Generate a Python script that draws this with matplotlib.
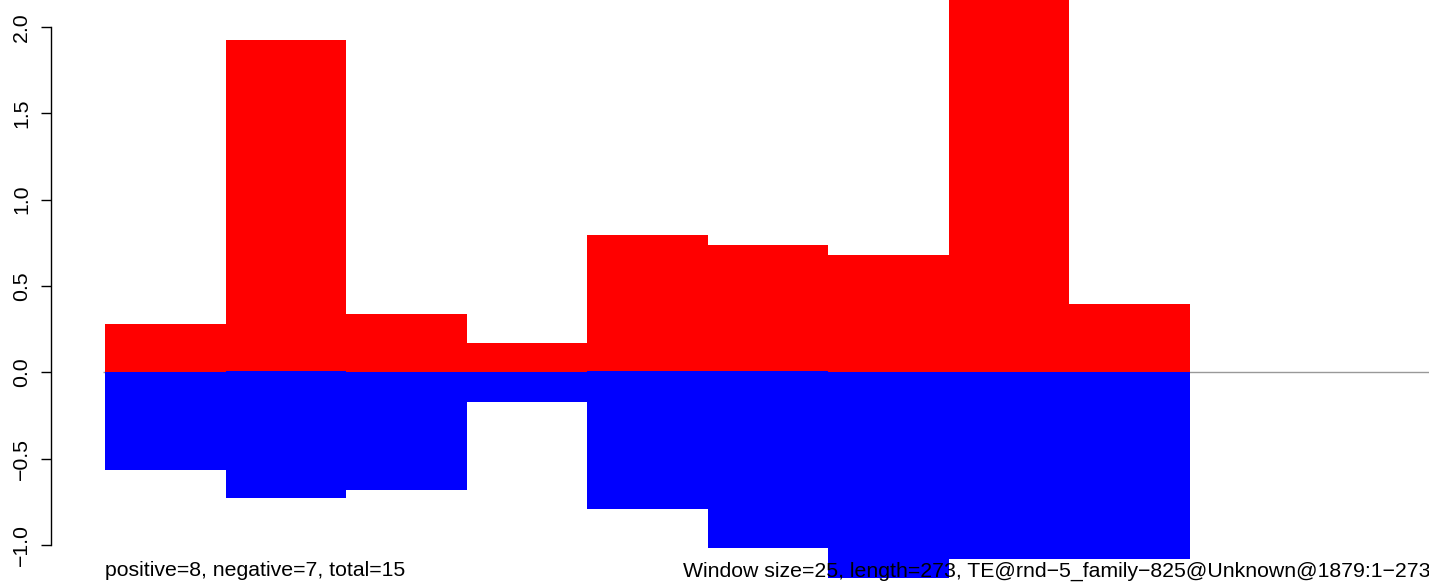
import matplotlib
matplotlib.use("Agg")
import matplotlib.pyplot as plt

plt.rcParams["font.family"] = ["Liberation Sans", "DejaVu Sans"]

# ── Data ──────────────────────────────────────────────────────────────────────
WINDOW = 25
LENGTH = 273
win_start = [0, 25, 50, 75, 100, 125, 150, 175, 200]
pos_vals  = [0.28, 1.925, 0.338, 0.17, 0.795, 0.737, 0.68, 2.45, 0.396]
neg_vals  = [-0.566, -0.728, -0.682, -0.172, -0.79, -1.019, -1.19, -1.081, -1.081]
neg_top   = [0.0, 0.005, 0.0, 0.0, 0.005, 0.005, 0.0, 0.0, 0.0]
yticks    = [-1.0, -0.5, 0.0, 0.5, 1.0, 1.5, 2.0]

left_label  = "positive=8, negative=7, total=15"
right_label = ("Window size=25, length=273, "
               "TE@rnd\u22125_family\u2212825@Unknown@1879:1\u2212273")

FS = 15.3
C_POS, C_NEG, C_ZERO = "#FF0000", "#0000FF", "#999999"

# ── Figure ────────────────────────────────────────────────────────────────────
W, H = 1429, 585
fig = plt.figure(figsize=(W / 100, H / 100), dpi=100)
ax = fig.add_axes([51 / W, 0, 1 - 51 / W, 1])

ax.set_xlim(-11.2, 274.6)
ax.set_ylim(-1.232, 2.156)

ax.hlines(0, -0.5, 400, color=C_ZERO, linewidth=1.0, zorder=1)
ax.bar(win_start, pos_vals, width=WINDOW, align="edge",
       color=C_POS, linewidth=0, zorder=2)
ax.bar(win_start, [n - t for n, t in zip(neg_vals, neg_top)], bottom=neg_top,
       width=WINDOW, align="edge", color=C_NEG, linewidth=0, zorder=3)

ax.text(0, -1.182, left_label, fontsize=FS, va="baseline", ha="left", zorder=5)
ax.text(119.9, -1.182, right_label, fontsize=FS, va="baseline", ha="left",
        zorder=5, clip_on=False)

# R-style y axis: line only between extreme ticks, rotated labels
for s in ["top", "right", "bottom"]:
    ax.spines[s].set_visible(False)
ax.spines["left"].set_bounds(-1.0, 2.0)
ax.spines["left"].set_linewidth(1.0)
ax.set_yticks(yticks)
ax.set_yticklabels([f"{v:.1f}".replace("-", "\u2212") for v in yticks],
                   rotation=90, va="center", fontsize=FS)
ax.tick_params(axis="y", direction="out", length=7.2, width=1.0, pad=7)
ax.set_xticks([])
ax.patch.set_alpha(0)

fig.savefig("out.png", dpi=100, facecolor="white")
